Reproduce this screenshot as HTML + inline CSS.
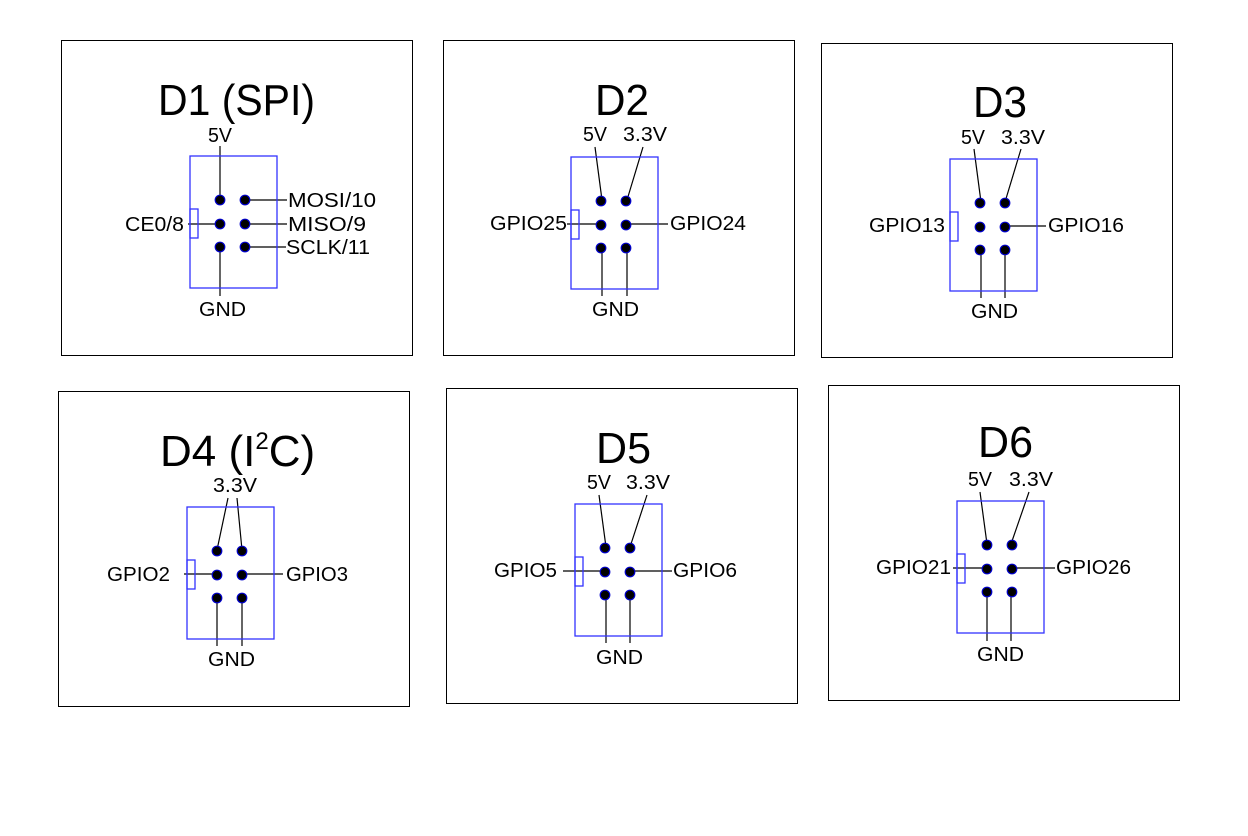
<!DOCTYPE html>
<html><head><meta charset="utf-8"><style>
html,body{margin:0;padding:0;background:#fff;}
svg{display:block;}
text{font-family:"Liberation Sans",sans-serif;fill:#000;}
.l{font-size:20px;}
.t{font-size:44px;}
</style></head><body>
<svg width="1248" height="836" viewBox="0 0 1248 836" xmlns="http://www.w3.org/2000/svg">
<defs>
<g id="conn">
<rect x="0" y="0" width="87" height="132" fill="none" stroke="#3333ff" stroke-width="1.3"/>
<rect x="0" y="53" width="8" height="29" fill="none" stroke="#3333ff" stroke-width="1.3"/>
<g fill="#000" stroke="#0000cc" stroke-width="1.2">
<circle cx="30" cy="44" r="4.8"/><circle cx="55" cy="44" r="4.8"/>
<circle cx="30" cy="68" r="4.8"/><circle cx="55" cy="68" r="4.8"/>
<circle cx="30" cy="91" r="4.8"/><circle cx="55" cy="91" r="4.8"/>
</g>
</g>
</defs>
<g fill="none" stroke="#000" stroke-width="1">
<rect x="61.5" y="40.5" width="351" height="315"/>
<rect x="443.5" y="40.5" width="351" height="315"/>
<rect x="821.5" y="43.5" width="351" height="314"/>
<rect x="58.5" y="391.5" width="351" height="315"/>
<rect x="446.5" y="388.5" width="351" height="315"/>
<rect x="828.5" y="385.5" width="351" height="315"/>
</g>

<!-- D1 -->
<text class="t" x="158" y="115" textLength="157" lengthAdjust="spacingAndGlyphs">D1 (SPI)</text>
<g stroke="#000" stroke-width="1.2">
<line x1="220" y1="146" x2="220" y2="200"/><line x1="220" y1="247" x2="220" y2="296"/>
<line x1="188" y1="224" x2="220" y2="224"/>
<line x1="245" y1="200" x2="287" y2="200"/><line x1="245" y1="224" x2="287" y2="224"/><line x1="245" y1="247" x2="286" y2="247"/>
</g>
<use href="#conn" x="190" y="156"/>
<text class="l" x="208" y="142" textLength="24" lengthAdjust="spacingAndGlyphs">5V</text>
<text class="l" x="125" y="231" textLength="59" lengthAdjust="spacingAndGlyphs">CE0/8</text>
<text class="l" x="288" y="207" textLength="88" lengthAdjust="spacingAndGlyphs">MOSI/10</text>
<text class="l" x="288" y="231" textLength="78" lengthAdjust="spacingAndGlyphs">MISO/9</text>
<text class="l" x="286" y="254" textLength="84" lengthAdjust="spacingAndGlyphs">SCLK/11</text>
<text class="l" x="199" y="316" textLength="47" lengthAdjust="spacingAndGlyphs">GND</text>

<!-- D2 -->
<text class="t" x="595" y="115" textLength="54" lengthAdjust="spacingAndGlyphs">D2</text>
<g stroke="#000" stroke-width="1.2">
<line x1="595" y1="147" x2="602" y2="200"/><line x1="643" y1="147" x2="627" y2="200"/>
<line x1="602" y1="247" x2="602" y2="296"/><line x1="627" y1="247" x2="627" y2="296"/>
<line x1="567" y1="224" x2="602" y2="224"/><line x1="627" y1="224" x2="668" y2="224"/>
</g>
<use href="#conn" x="571" y="157"/>
<text class="l" x="583" y="141" textLength="24" lengthAdjust="spacingAndGlyphs">5V</text>
<text class="l" x="623" y="141" textLength="44" lengthAdjust="spacingAndGlyphs">3.3V</text>
<text class="l" x="490" y="230" textLength="77" lengthAdjust="spacingAndGlyphs">GPIO25</text>
<text class="l" x="670" y="230" textLength="76" lengthAdjust="spacingAndGlyphs">GPIO24</text>
<text class="l" x="592" y="316" textLength="47" lengthAdjust="spacingAndGlyphs">GND</text>

<!-- D3 -->
<text class="t" x="973" y="117" textLength="54" lengthAdjust="spacingAndGlyphs">D3</text>
<g stroke="#000" stroke-width="1.2">
<line x1="974" y1="149" x2="981" y2="202"/><line x1="1021" y1="149" x2="1005" y2="202"/>
<line x1="981" y1="249" x2="981" y2="298"/><line x1="1005" y1="249" x2="1005" y2="298"/>
<line x1="1005" y1="226" x2="1046" y2="226"/>
</g>
<use href="#conn" x="950" y="159"/>
<text class="l" x="961" y="144" textLength="24" lengthAdjust="spacingAndGlyphs">5V</text>
<text class="l" x="1001" y="144" textLength="44" lengthAdjust="spacingAndGlyphs">3.3V</text>
<text class="l" x="869" y="232" textLength="76" lengthAdjust="spacingAndGlyphs">GPIO13</text>
<text class="l" x="1048" y="232" textLength="76" lengthAdjust="spacingAndGlyphs">GPIO16</text>
<text class="l" x="971" y="318" textLength="47" lengthAdjust="spacingAndGlyphs">GND</text>

<!-- D4 -->
<text class="t" x="160" y="466"><tspan>D4 (I</tspan><tspan font-size="24" dy="-17">2</tspan><tspan dy="17">C)</tspan></text>
<g stroke="#000" stroke-width="1.2">
<line x1="228" y1="498" x2="217" y2="550"/><line x1="237" y1="498" x2="242" y2="550"/>
<line x1="217" y1="597" x2="217" y2="646"/><line x1="242" y1="597" x2="242" y2="646"/>
<line x1="184" y1="574" x2="217" y2="574"/><line x1="242" y1="574" x2="283" y2="574"/>
</g>
<use href="#conn" x="187" y="507"/>
<text class="l" x="213" y="492" textLength="44" lengthAdjust="spacingAndGlyphs">3.3V</text>
<text class="l" x="107" y="581" textLength="63" lengthAdjust="spacingAndGlyphs">GPIO2</text>
<text class="l" x="286" y="581" textLength="62" lengthAdjust="spacingAndGlyphs">GPIO3</text>
<text class="l" x="208" y="666" textLength="47" lengthAdjust="spacingAndGlyphs">GND</text>

<!-- D5 -->
<text class="t" x="596" y="463" textLength="55" lengthAdjust="spacingAndGlyphs">D5</text>
<g stroke="#000" stroke-width="1.2">
<line x1="599" y1="495" x2="606" y2="547"/><line x1="647" y1="495" x2="630" y2="547"/>
<line x1="606" y1="594" x2="606" y2="643"/><line x1="630" y1="594" x2="630" y2="643"/>
<line x1="563" y1="571" x2="606" y2="571"/><line x1="630" y1="571" x2="672" y2="571"/>
</g>
<use href="#conn" x="575" y="504"/>
<text class="l" x="587" y="489" textLength="24" lengthAdjust="spacingAndGlyphs">5V</text>
<text class="l" x="626" y="489" textLength="44" lengthAdjust="spacingAndGlyphs">3.3V</text>
<text class="l" x="494" y="577" textLength="63" lengthAdjust="spacingAndGlyphs">GPIO5</text>
<text class="l" x="673" y="577" textLength="64" lengthAdjust="spacingAndGlyphs">GPIO6</text>
<text class="l" x="596" y="664" textLength="47" lengthAdjust="spacingAndGlyphs">GND</text>

<!-- D6 -->
<text class="t" x="978" y="457" textLength="55" lengthAdjust="spacingAndGlyphs">D6</text>
<g stroke="#000" stroke-width="1.2">
<line x1="980" y1="492" x2="987" y2="544"/><line x1="1029" y1="492" x2="1011" y2="544"/>
<line x1="987" y1="591" x2="987" y2="641"/><line x1="1011" y1="591" x2="1011" y2="641"/>
<line x1="953" y1="568" x2="987" y2="568"/><line x1="1011" y1="568" x2="1055" y2="568"/>
</g>
<use href="#conn" x="957" y="501"/>
<text class="l" x="968" y="486" textLength="24" lengthAdjust="spacingAndGlyphs">5V</text>
<text class="l" x="1009" y="486" textLength="44" lengthAdjust="spacingAndGlyphs">3.3V</text>
<text class="l" x="876" y="574" textLength="75" lengthAdjust="spacingAndGlyphs">GPIO21</text>
<text class="l" x="1056" y="574" textLength="75" lengthAdjust="spacingAndGlyphs">GPIO26</text>
<text class="l" x="977" y="661" textLength="47" lengthAdjust="spacingAndGlyphs">GND</text>
</svg>
</body></html>
